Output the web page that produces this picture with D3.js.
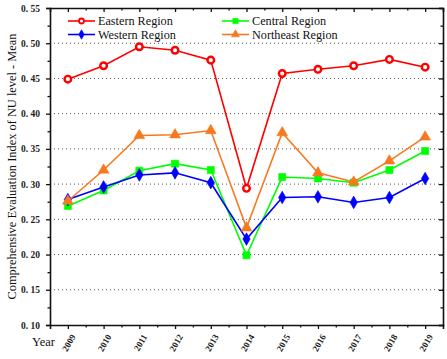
<!DOCTYPE html>
<html>
<head>
<meta charset="utf-8">
<script src="https://cdn.jsdelivr.net/npm/d3@7"></script>
<style>
  body { margin: 0; background: #fff; }
  svg text { font-family: "Times New Roman", "Liberation Serif", "DejaVu Serif", serif; }
</style>
</head>
<body>
<div id="app"></div>
<script>
const years = [2009, 2010, 2011, 2012, 2013, 2014, 2015, 2016, 2017, 2018, 2019];
const eastern   = [0.449, 0.468, 0.495, 0.490, 0.476, 0.294, 0.457, 0.463, 0.468, 0.477, 0.466];
const western   = [0.278, 0.296, 0.313, 0.316, 0.302, 0.222, 0.281, 0.282, 0.274, 0.281, 0.308];
const central   = [0.269, 0.291, 0.319, 0.329, 0.320, 0.199, 0.310, 0.308, 0.302, 0.320, 0.347];
const northeast = [0.276, 0.320, 0.369, 0.370, 0.376, 0.238, 0.373, 0.316, 0.303, 0.333, 0.367];
const yTicks = [0.10, 0.15, 0.20, 0.25, 0.30, 0.35, 0.40, 0.45, 0.50, 0.55];

const series = [
    {name: "Eastern Region",   values: eastern,   color: "#ff0000", shape: "circle"},
    {name: "Central Region",   values: central,   color: "#00ff00", shape: "square"},
    {name: "Western Region",   values: western,   color: "#0000ff", shape: "diamond"},
    {name: "Northeast Region", values: northeast, color: "#f7781f", shape: "triangle"}
];

const serif = "'Times New Roman', 'Liberation Serif', serif";
const margin = {top: 8, right: 4, bottom: 34, left: 50};
const W = 447, H = 359;
const width = W - margin.left - margin.right;
const height = H - margin.top - margin.bottom;

const svg = d3.select("#app").append("svg")
    .attr("width", W)
    .attr("height", H);
const g = svg.append("g")
    .attr("transform", "translate(" + margin.left + "," + margin.top + ")");

const x = d3.scaleLinear().domain([2008.5, 2019.5]).range([0, width]);
const y = d3.scaleLinear().domain([0.10, 0.55]).range([height, 0]);

// dotted grid lines
g.append("g")
    .selectAll("line")
    .data(yTicks.slice(1, -1))
    .join("line")
        .attr("x1", 0).attr("x2", width)
        .attr("y1", d => y(d)).attr("y2", d => y(d))
        .attr("stroke", "#555")
        .attr("stroke-width", 1)
        .attr("stroke-dasharray", "1,3");

const minorY = d3.range(0.125, 0.55, 0.05);
const minorX = d3.range(2009.5, 2019, 1);

// left axis
const left = g.append("g")
    .call(d3.axisLeft(y).tickValues(yTicks).tickSize(4).tickFormat(d => d3.format(".2f")(d).replace(".", ". ")));
left.attr("font-family", serif);
left.selectAll("text")
    .attr("x", -10)
    .style("font-weight", "bold")
    .style("font-size", "9.5px")
    .attr("fill", "#222");
g.append("g")
    .call(d3.axisLeft(y).tickValues(minorY).tickSize(2.5).tickFormat(""))
    .select(".domain").remove();

// right axis (mirror, inward ticks)
g.append("g")
    .attr("transform", "translate(" + width + ",0)")
    .call(d3.axisLeft(y).tickValues(yTicks).tickSize(4).tickFormat(""));
g.append("g")
    .attr("transform", "translate(" + width + ",0)")
    .call(d3.axisLeft(y).tickValues(minorY).tickSize(2.5).tickFormat(""))
    .select(".domain").remove();

// bottom axis
const bottom = g.append("g")
    .attr("transform", "translate(0," + height + ")")
    .call(d3.axisBottom(x).tickValues(years).tickSize(4).tickFormat(d3.format("d")));
bottom.attr("font-family", serif);
bottom.selectAll("text")
    .attr("transform", "translate(5,10) rotate(-60)")
    .attr("text-anchor", "end")
    .attr("x", 0)
    .attr("y", 0)
    .attr("dy", "0.35em")
    .style("font-weight", "bold")
    .style("font-size", "9px")
    .attr("fill", "#222");
g.append("g")
    .attr("transform", "translate(0," + height + ")")
    .call(d3.axisBottom(x).tickValues(minorX).tickSize(2.5).tickFormat(""))
    .select(".domain").remove();

// top axis (mirror, inward ticks)
g.append("g")
    .call(d3.axisBottom(x).tickValues(years).tickSize(4).tickFormat(""));
g.append("g")
    .call(d3.axisBottom(x).tickValues(minorX).tickSize(2.5).tickFormat(""))
    .select(".domain").remove();

g.selectAll(".domain").attr("stroke", "#111").attr("stroke-width", 1.6);
g.selectAll(".tick line").attr("stroke", "#111").attr("stroke-width", 1.3);

// axis titles
svg.append("text")
    .attr("transform", "translate(12," + (margin.top + height / 2) + ") rotate(-90)")
    .attr("text-anchor", "middle")
    .attr("dy", "0.35em")
    .style("font-size", "12.4px")
    .attr("fill", "#111")
    .text("Comprehensive Evaluation Index of NU level - Mean");
svg.append("text")
    .attr("x", 32)
    .attr("y", 346)
    .style("font-size", "12.5px")
    .attr("fill", "#111")
    .text("Year");

// markers
function drawMarker(sel, shape, color, s) {
    if (shape === "circle") {
        sel.append("circle").attr("r", s * 0.75)
            .attr("fill", "#fff").attr("stroke", color).attr("stroke-width", s * 0.55);
    } else {
        const sym = {square: d3.symbolSquare, diamond: d3.symbolDiamond, triangle: d3.symbolTriangle}[shape];
        const size = {square: s * s * 2.6, diamond: s * s * 2.4, triangle: s * s * 2.6}[shape];
        sel.append("path").attr("d", d3.symbol(sym, size)())
            .attr("fill", color).attr("stroke", color).attr("stroke-width", 0.6);
    }
}

const line = d3.line()
    .x((d, i) => x(years[i]))
    .y(d => y(d));

series.forEach(s => {
    g.append("path")
        .datum(s.values)
        .attr("fill", "none")
        .attr("stroke", s.color)
        .attr("stroke-width", 1.6)
        .attr("d", line);
    s.values.forEach((v, i) => {
        const m = g.append("g").attr("transform", "translate(" + x(years[i]) + "," + y(v) + ")");
        drawMarker(m, s.shape, s.color, 4.4);
    });
});

// legend
const legendPos = [[68, 21], [222, 21], [68, 34.5], [222, 34.5]];
series.forEach((s, i) => {
    const lg = svg.append("g").attr("transform", "translate(" + legendPos[i][0] + "," + legendPos[i][1] + ")");
    lg.append("line").attr("x1", 0).attr("x2", 27).attr("stroke", s.color).attr("stroke-width", 1.6);
    const m = lg.append("g").attr("transform", "translate(13.5,0)");
    drawMarker(m, s.shape, s.color, 3.3);
    lg.append("text")
        .attr("x", 30)
        .attr("dy", "0.35em")
        .style("font-size", "12.2px")
        .attr("fill", "#111")
        .text(s.name);
});
</script>
</body>
</html>
